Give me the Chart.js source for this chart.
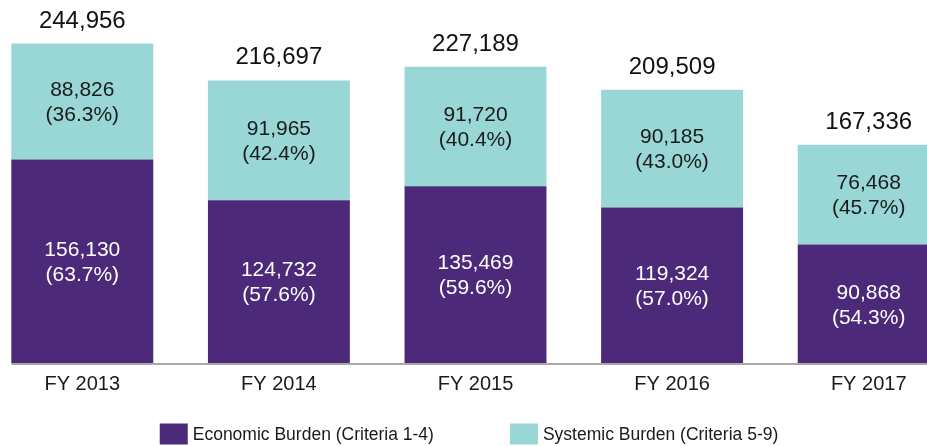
<!DOCTYPE html>
<html><head><meta charset="utf-8">
<script src="https://cdn.jsdelivr.net/npm/chart.js@4"></script>
<style>
html,body{margin:0;padding:0;background:#fff;overflow:hidden;width:927px;height:446px;}
#wrap{position:absolute;left:-20px;top:0;width:1000px;height:446px;}
</style></head><body>
<div id="wrap"><canvas id="c" width="1000" height="446"></canvas></div>
<script>
const categories = ['FY 2013', 'FY 2014', 'FY 2015', 'FY 2016', 'FY 2017'];
const economicBurden = [156130, 124732, 135469, 119324, 90868];
const systemicBurden = [88826, 91965, 91720, 90185, 76468];
const seriesLabels = ['Economic Burden (Criteria 1-4)', 'Systemic Burden (Criteria 5-9)'];
const seriesColors = ['#4d2a79', '#99d6d6'];
const yMax = 250000;

const FONT = '"Liberation Sans", Arial, sans-serif';
const totals = categories.map((_, i) => economicBurden[i] + systemicBurden[i]);
const fmt = v => v.toLocaleString('en-US');

const labelPlugin = {
  id: 'barLabels',
  afterDatasetsDraw(chart) {
    const ctx = chart.ctx;
    ctx.save();
    ctx.textAlign = 'center';
    chart.data.datasets.forEach((ds, di) => {
      const meta = chart.getDatasetMeta(di);
      meta.data.forEach((bar, i) => {
        const v = ds.data[i];
        const mid = (bar.y + bar.base) / 2;
        ctx.fillStyle = di === 0 ? '#ffffff' : '#1a1a1a';
        ctx.font = '21px ' + FONT;
        ctx.textBaseline = 'middle';
        ctx.fillText(fmt(v), bar.x, mid - 11);
        ctx.fillText('(' + (v / totals[i] * 100).toFixed(1) + '%)', bar.x, mid + 14);
      });
    });
    const topMeta = chart.getDatasetMeta(chart.data.datasets.length - 1);
    topMeta.data.forEach((bar, i) => {
      ctx.fillStyle = '#111111';
      ctx.font = '24px ' + FONT;
      ctx.textBaseline = 'alphabetic';
      ctx.fillText(fmt(totals[i]), bar.x, bar.y - 16);
    });
    ctx.restore();
  }
};

const axisLinePlugin = {
  id: 'axisLine',
  afterDatasetsDraw(chart) {
    const ctx = chart.ctx;
    const b = chart.getDatasetMeta(0).data[0];
    const left = b.x - b.width / 2;
    const y = chart.chartArea.bottom + 1;
    ctx.save();
    ctx.strokeStyle = '#a8a8a8';
    ctx.lineWidth = 2;
    ctx.beginPath();
    ctx.moveTo(left, y);
    ctx.lineTo(chart.chartArea.right, y);
    ctx.stroke();
    ctx.restore();
  }
};

const legendPlugin = {
  id: 'customLegend',
  afterDraw(chart) {
    const ctx = chart.ctx;
    ctx.save();
    ctx.font = '17.5px ' + FONT;
    const boxW = 28, boxH = 21, gapText = 5, gapItem = 76;
    const items = chart.data.datasets.map(ds => ({ text: ds.label, color: ds.backgroundColor }));
    const widths = items.map(it => boxW + gapText + ctx.measureText(it.text).width);
    const total = widths.reduce((a, b) => a + b, 0) + gapItem * (items.length - 1);
    let x = chart.width / 2 - 11 - total / 2;
    const yc = 434;
    items.forEach((it, i) => {
      ctx.fillStyle = it.color;
      ctx.fillRect(x, yc - boxH / 2, boxW, boxH);
      ctx.fillStyle = '#1a1a1a';
      ctx.textBaseline = 'middle';
      ctx.textAlign = 'left';
      ctx.fillText(it.text, x + boxW + gapText, yc + 1);
      x += widths[i] + gapItem;
    });
    ctx.restore();
  }
};

new Chart(document.getElementById('c'), {
  type: 'bar',
  data: {
    labels: categories,
    datasets: [
      { label: seriesLabels[0], data: economicBurden, backgroundColor: seriesColors[0], borderWidth: 0, barPercentage: 0.722, categoryPercentage: 1.0 },
      { label: seriesLabels[1], data: systemicBurden, backgroundColor: seriesColors[1], borderWidth: 0, barPercentage: 0.722, categoryPercentage: 1.0 }
    ]
  },
  options: {
    responsive: false,
    animation: false,
    devicePixelRatio: 1,
    layout: { padding: { top: 37, left: 4, right: 13, bottom: 49 } },
    plugins: { legend: { display: false }, tooltip: { enabled: false } },
    scales: {
      x: {
        stacked: true,
        grid: { display: false },
        border: { display: false },
        ticks: { color: '#1a1a1a', font: { family: FONT, size: 20 }, padding: 1 }
      },
      y: { stacked: true, display: false, min: 0, max: yMax }
    }
  },
  plugins: [labelPlugin, axisLinePlugin, legendPlugin]
});
</script>
</body></html>
